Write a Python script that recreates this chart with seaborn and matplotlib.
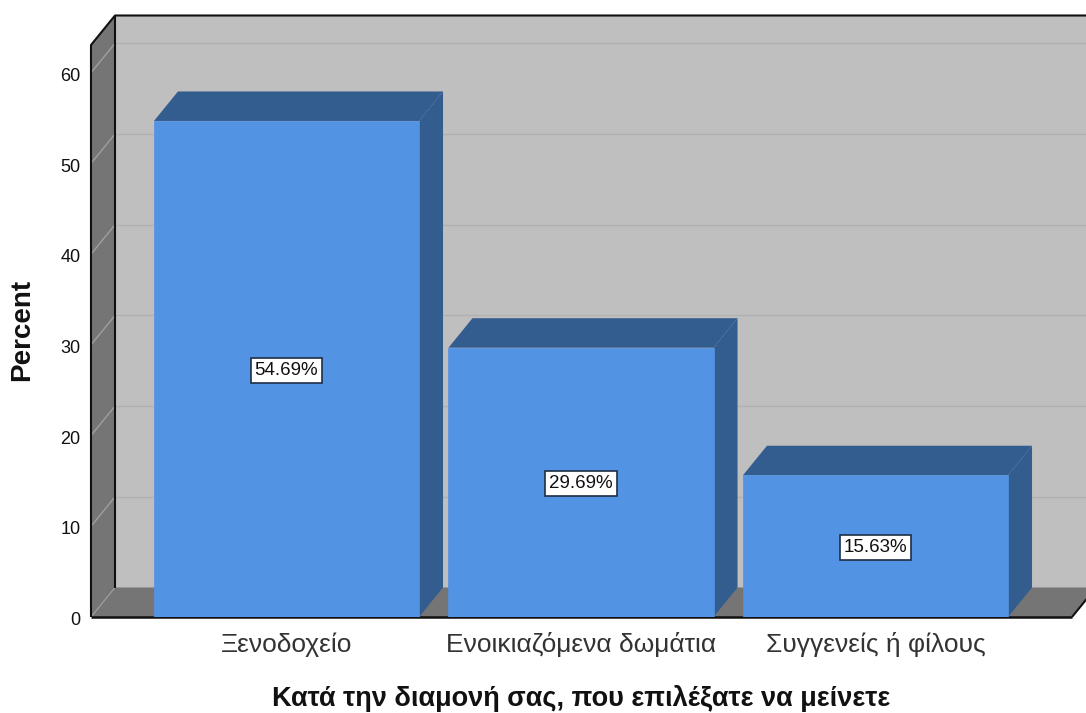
import matplotlib
matplotlib.use("Agg")
import matplotlib.pyplot as plt
import pandas as pd
import seaborn as sns
from matplotlib.patches import Polygon
from matplotlib.transforms import ScaledTranslation

categories = ["Ξενοδοχείο", "Ενοικιαζόμενα δωμάτια", "Συγγενείς ή φίλους"]
percent = [54.69, 29.69, 15.63]
value_labels = ["54.69%", "29.69%", "15.63%"]
y_ticks = [0, 10, 20, 30, 40, 50, 60]

FACE = "#5293E4"
SHADE = "#335C8F"
WALL = "#BFBFBF"
PANEL = "#757575"
GRID_BACK = "#B0B0B0"
GRID_SIDE = "#A0A0A0"
OUTLINE = "#111111"

W, H = 1086, 713
LEFT, RIGHT, TOP, BOTTOM = 91, 1072, 45, 617

sns.set_theme(style="white")
plt.rcParams["font.family"] = ["Liberation Sans", "DejaVu Sans"]

fig = plt.figure(figsize=(W / 100, H / 100), dpi=100, facecolor="white")
ax = fig.add_axes([LEFT / W, 1 - BOTTOM / H, (RIGHT - LEFT) / W, (BOTTOM - TOP) / H])

frame = pd.DataFrame({"stay": categories, "percent": percent})
sns.barplot(data=frame, x="stay", y="percent", color=FACE, saturation=1, width=0.9,
            edgecolor=FACE, linewidth=0.5, ax=ax, zorder=5)

# one category step is 294.5 px, one percent is 9.07 px
ax.set_xlim(-(286.5 - LEFT) / 294.5, (RIGHT - 286.5) / 294.5)
ax.set_ylim(0, (BOTTOM - TOP) / 9.07)
dx = 24 / 294.5
dy = 29.5 / 9.07
x0, x1 = ax.get_xlim()
y0, y1 = ax.get_ylim()


def poly(points, face, z):
    ax.add_patch(Polygon(points, closed=True, facecolor=face, edgecolor="none",
                         linewidth=0, zorder=z, clip_on=False))


def line(xs, ys, color, lw, z):
    ax.plot(xs, ys, color=color, lw=lw, zorder=z, clip_on=False, solid_capstyle="butt")


# back wall, side wall and floor of the box
poly([(x0 + dx, dy), (x1 + dx, dy), (x1 + dx, y1 + dy), (x0 + dx, y1 + dy)], WALL, 1)
poly([(x0, 0), (x0 + dx, dy), (x0 + dx, y1 + dy), (x0, y1)], PANEL, 1)
poly([(x0, 0), (x1, 0), (x1 + dx, dy), (x0 + dx, dy)], PANEL, 1)

for t in y_ticks[1:]:
    line([x0 + dx, x1 + dx], [t + dy, t + dy], GRID_BACK, 1.0, 2)
    line([x0, x0 + dx], [t, t + dy], GRID_SIDE, 1.0, 2)
line([x0, x0 + dx], [0, dy], GRID_SIDE, 0.8, 2)

# box outline
line([x0, x0], [0, y1], OUTLINE, 1.5, 3)
line([x0 + dx, x0 + dx], [dy, y1 + dy], OUTLINE, 1.5, 3)
ax.plot([x0, x0 + dx, x1 + dx], [y1, y1 + dy, y1 + dy], color=OUTLINE, lw=1.5,
        zorder=3, clip_on=False)
line([x0, x1], [0, 0], OUTLINE, 1.8, 3)
line([x1, x1 + dx], [0, dy], OUTLINE, 1.5, 3)

# depth faces and value tags for each bar
for bar, text in zip(ax.patches, value_labels):
    left, right, top = bar.get_x(), bar.get_x() + bar.get_width(), bar.get_height()
    poly([(left, top), (right, top), (right + dx, top + dy), (left + dx, top + dy)], SHADE, 4)
    poly([(right, 0), (right + dx, dy), (right + dx, top + dy), (right, top)], SHADE, 4)
    ax.annotate(text, (left + bar.get_width() / 2, top / 2), xytext=(0, -1),
                textcoords="offset points", ha="center", va="center",
                fontsize=13.5, color="#111111", zorder=6,
                bbox=dict(boxstyle="square,pad=0.2", facecolor="white",
                          edgecolor="#1F2F45", linewidth=1.2))

ax.set_yticks(y_ticks)
ax.tick_params(axis="y", length=0, pad=7.5, labelsize=13, labelcolor="#111111")
ax.tick_params(axis="x", length=0, pad=11, labelsize=19, labelcolor="#333333")
shift = ScaledTranslation(0, -1.5 / 100, fig.dpi_scale_trans)
for tick in ax.get_yticklabels():
    tick.set_transform(tick.get_transform() + shift)
ax.set_xlabel("Κατά την διαμονή σας, που επιλέξατε να μείνετε", fontsize=19.5,
              fontweight="bold", color="#111111")
ax.xaxis.set_label_coords((581 - LEFT) / (RIGHT - LEFT), -(699 - BOTTOM) / (BOTTOM - TOP),
                          transform=ax.transAxes)
ax.xaxis.label.set_va("center")
ax.set_ylabel("Percent", fontsize=20, fontweight="bold", color="#111111")
ax.yaxis.set_label_coords(-(LEFT - 22) / (RIGHT - LEFT), (BOTTOM - 330) / (BOTTOM - TOP),
                          transform=ax.transAxes)
ax.yaxis.label.set_va("center")
for side in ax.spines.values():
    side.set_visible(False)
ax.patch.set_visible(False)

fig.savefig("out.png", dpi=100, facecolor="white")
